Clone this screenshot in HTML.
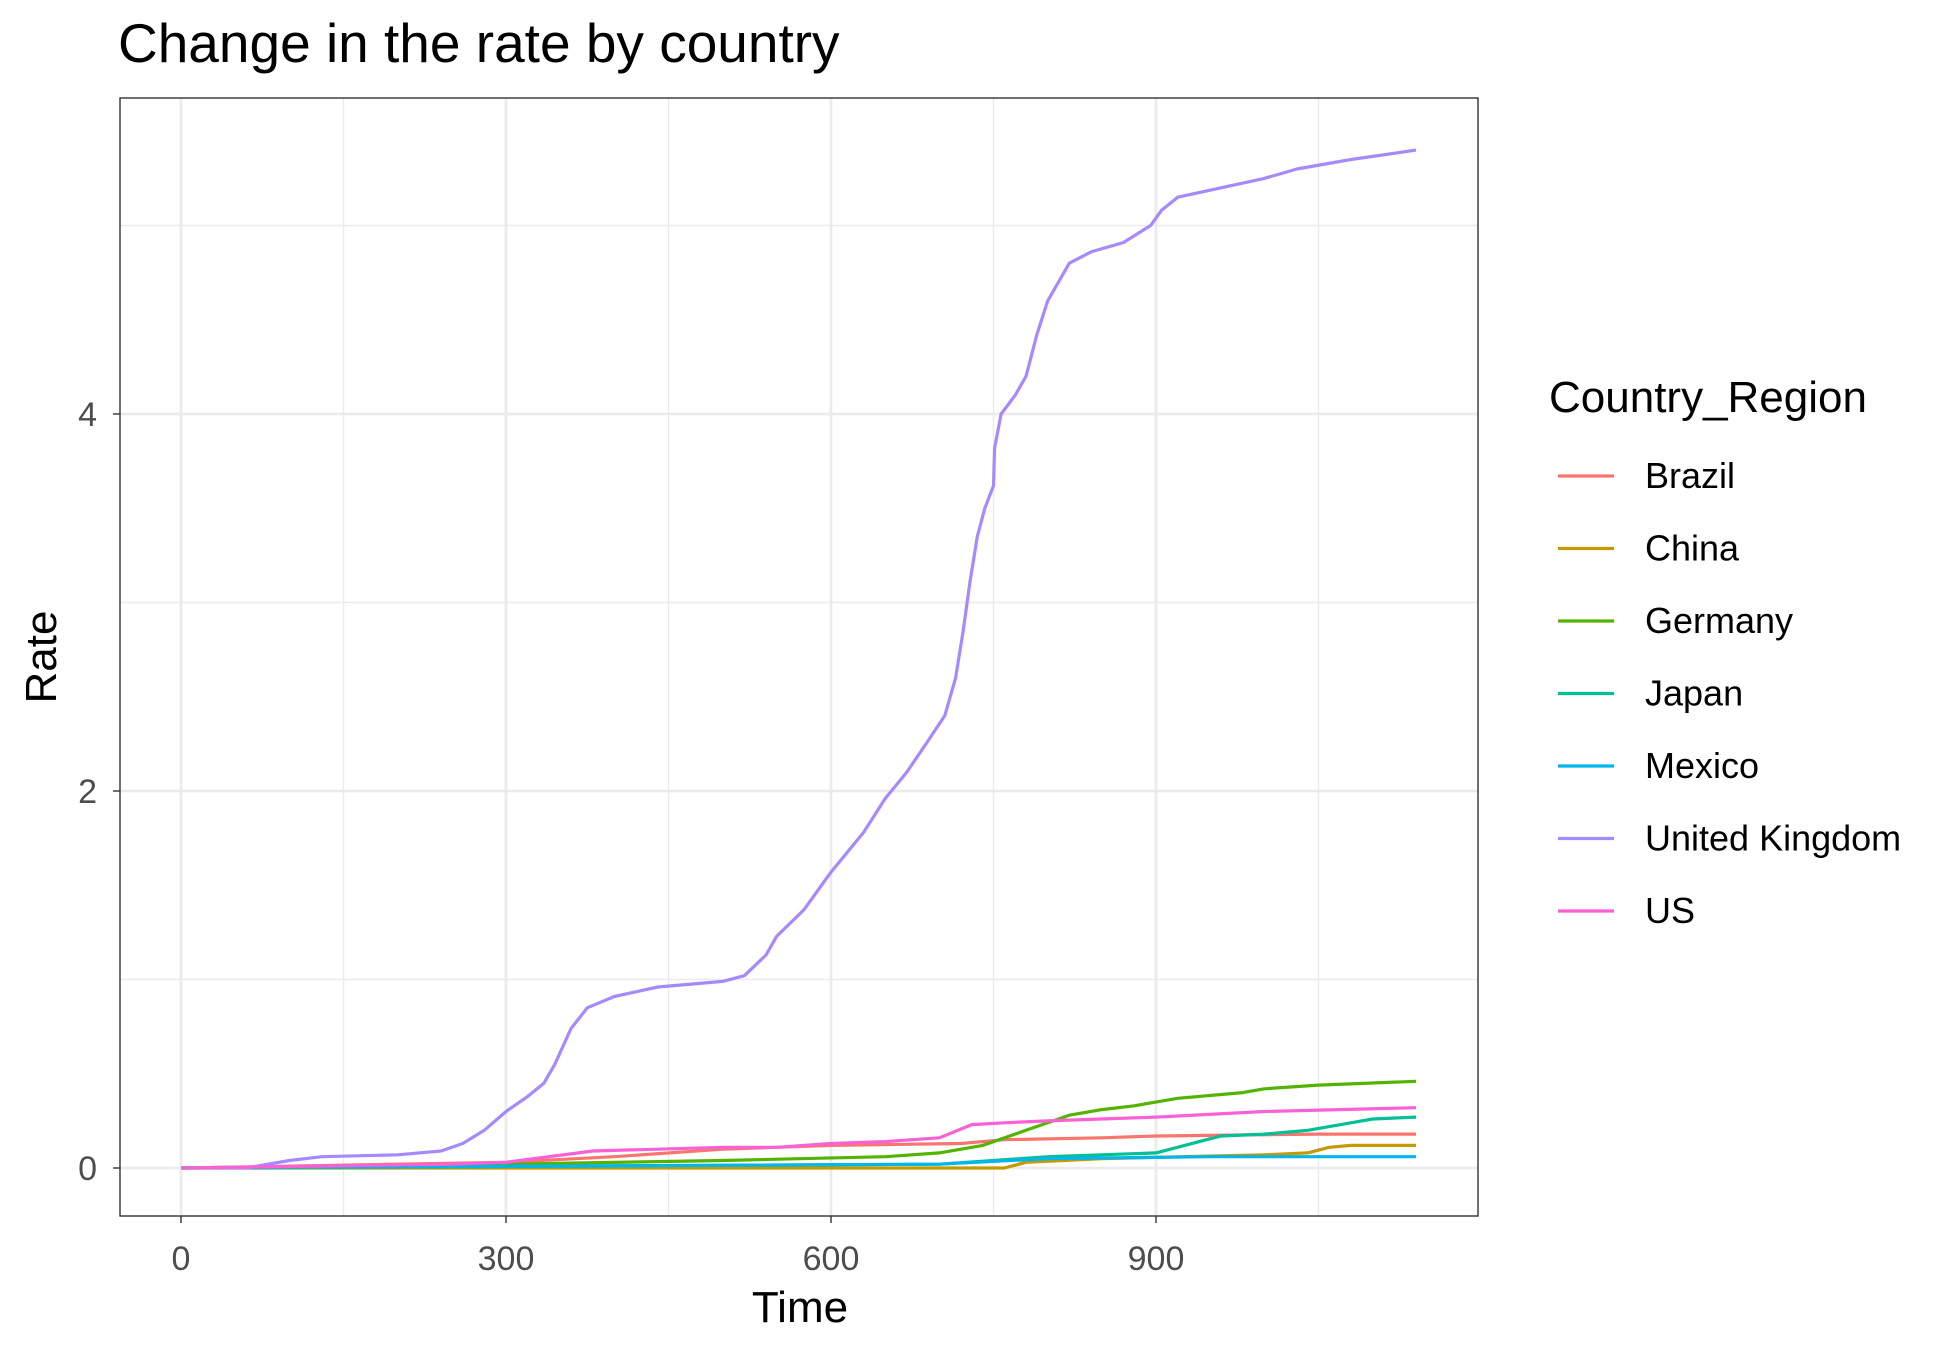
<!DOCTYPE html>
<html><head><meta charset="utf-8"><style>
body{margin:0;background:#fff;}
svg{display:block;font-family:"Liberation Sans",sans-serif;}
</style></head><body>
<svg id="chart" width="1950" height="1349">
<rect width="1950" height="1349" fill="#fff"/>
<text x="118" y="62" font-size="55" fill="#000">Change in the rate by country</text>
<g id="grid"></g>
<g id="series"></g>
<rect x="120" y="98" width="1358" height="1118" fill="none" stroke="#333" stroke-width="1.4"/>
<g id="axes"></g>
<text x="800" y="1322" font-size="44" text-anchor="middle">Time</text>
<text transform="translate(56,657) rotate(-90)" font-size="44" text-anchor="middle">Rate</text>
<g id="legend">
<text x="1549" y="412" font-size="44">Country_Region</text>
</g>
</svg>
<script>
const xTicks=[0,300,600,900];
const xMinor=[150,450,750,1050];
const yTicks=[0,2,4];
const yMinor=[1,3,5];
const names=["Brazil","China","Germany","Japan","Mexico","United Kingdom","US"];
const colors=["#F8766D","#C49A00","#53B400","#00C094","#00B6EB","#A58AFF","#FB61D7"];
const brazilT=[0,300,400,500,600,720,760,850,900,1050,1140];
const brazilV=[0,0.03,0.06,0.1,0.12,0.13,0.15,0.16,0.17,0.18,0.18];
const chinaT=[0,760,780,850,1000,1040,1060,1080,1140];
const chinaV=[0,0,0.03,0.05,0.07,0.08,0.11,0.12,0.12];
const germanyT=[0,300,500,650,700,740,780,820,850,880,920,980,1000,1050,1140];
const germanyV=[0,0.02,0.04,0.06,0.08,0.12,0.2,0.28,0.31,0.33,0.37,0.4,0.42,0.44,0.46];
const japanT=[0,700,750,800,850,900,940,960,1000,1040,1080,1100,1140];
const japanV=[0,0.02,0.04,0.06,0.07,0.08,0.14,0.17,0.18,0.2,0.24,0.26,0.27];
const mexicoT=[0,700,800,950,1140];
const mexicoV=[0,0.02,0.05,0.06,0.06];
const ukT=[0,60,100,130,200,240,260,280,300,320,335,345,360,375,400,440,500,520,540,550,575,600,630,650,670,690,705,715,722,728,735,742,750,751,757,770,780,790,800,810,820,840,870,895,905,920,960,1000,1030,1080,1140];
const ukV=[0,0,0.04,0.06,0.07,0.09,0.13,0.2,0.3,0.38,0.45,0.55,0.74,0.85,0.91,0.96,0.99,1.02,1.13,1.23,1.37,1.57,1.78,1.96,2.1,2.27,2.4,2.6,2.85,3.1,3.35,3.5,3.62,3.82,4.0,4.1,4.2,4.42,4.6,4.7,4.8,4.86,4.91,5.0,5.08,5.15,5.2,5.25,5.3,5.35,5.4];
const usT=[0,250,300,380,500,550,600,650,700,730,760,800,900,1000,1140];
const usV=[0,0.02,0.03,0.09,0.11,0.11,0.13,0.14,0.16,0.23,0.24,0.25,0.27,0.3,0.32];
const seriesT=[brazilT,chinaT,germanyT,japanT,mexicoT,ukT,usT];
const seriesV=[brazilV,chinaV,germanyV,japanV,mexicoV,ukV,usV];

const NS="http://www.w3.org/2000/svg";
function X(t){return 181+t*(975/900);}
function Y(v){return 1168-v*188.5;}
function mk(tag,attrs,parent){const e=document.createElementNS(NS,tag);for(const k in attrs)e.setAttribute(k,attrs[k]);parent.appendChild(e);return e;}
const grid=document.getElementById('grid'),axes=document.getElementById('axes'),ser=document.getElementById('series'),leg=document.getElementById('legend');
yMinor.forEach(v=>{const l=mk('line',{x1:120,x2:1478,y1:Y(v),y2:Y(v),stroke:'#EBEBEB','stroke-width':1.4},grid);

});
xMinor.forEach(t=>{const l=mk('line',{x1:X(t),x2:X(t),y1:98,y2:1216,stroke:'#EBEBEB','stroke-width':1.4},grid);

});
yTicks.forEach(v=>{const l=mk('line',{x1:120,x2:1478,y1:Y(v),y2:Y(v),stroke:'#EBEBEB','stroke-width':2.8},grid);


const tk=mk('line',{x1:113,x2:120,y1:Y(v),y2:Y(v),stroke:'#333','stroke-width':1.4},axes);


const tx=mk('text',{x:97,y:Y(v)+12,'font-size':34,fill:'#4D4D4D','text-anchor':'end'},axes);tx.textContent=v;

});
xTicks.forEach(t=>{const l=mk('line',{x1:X(t),x2:X(t),y1:98,y2:1216,stroke:'#EBEBEB','stroke-width':2.8},grid);


const tk=mk('line',{x1:X(t),x2:X(t),y1:1216,y2:1223,stroke:'#333','stroke-width':1.4},axes);


const tx=mk('text',{x:X(t),y:1270,'font-size':34,fill:'#4D4D4D','text-anchor':'middle'},axes);tx.textContent=t;

});
names.forEach((n,i)=>{
const d=seriesT[i].map((t,j)=>(j?'L':'M')+X(t).toFixed(1)+','+Y(seriesV[i][j]).toFixed(1)).join('');
const p=mk('path',{d:d,fill:'none',stroke:colors[i],'stroke-width':3.2,'stroke-linejoin':'round'},ser);


const y=476+i*72.5;
const kl=mk('line',{x1:1558,x2:1614,y1:y,y2:y,stroke:colors[i],'stroke-width':3.2},leg);


const lt=mk('text',{x:1645,y:y+12,'font-size':36},leg);lt.textContent=n;


});
</script>
</body></html>
